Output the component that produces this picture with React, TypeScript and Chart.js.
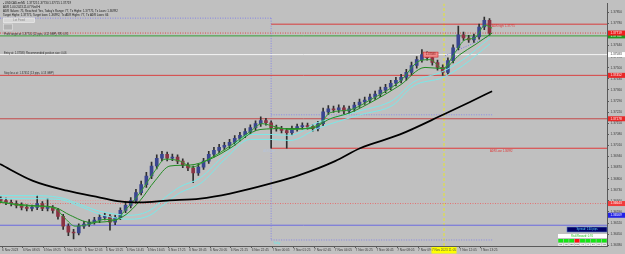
import React, { useEffect, useRef } from "react";
import { Chart, registerables } from "chart.js";

Chart.register(...registerables);

// ---- time axis (minutes after 6 Nov 2023 00:00) ----
const candleStartTime = 400;
const candleStep = 20;
const xMinTime = 397;
const xMaxTime = 2732;

const xTickTimes = [405, 485, 565, 645, 725, 805, 885, 965, 1045, 1125, 1205, 1285, 1365, 1445, 1525, 1605, 1685, 1765, 1845, 1925, 2005, 2085, 2165, 2245];
const xTickLabels = [
  "6 Nov 2023", "6 Nov 08:05", "6 Nov 09:25", "6 Nov 10:45", "6 Nov 12:05", "6 Nov 13:25", "6 Nov 14:45", "6 Nov 16:05",
  "6 Nov 17:25", "6 Nov 18:45", "6 Nov 20:05", "6 Nov 21:25", "6 Nov 22:45", "7 Nov 00:05", "7 Nov 01:25", "7 Nov 02:45",
  "7 Nov 04:05", "7 Nov 05:25", "7 Nov 06:45", "7 Nov 08:05", "7 Nov 09:25", "7 Nov 10:45", "7 Nov 12:05", "7 Nov 13:25",
];

// ---- price axis ----
const yMinPrice = 1.36375;
const yMaxPrice = 1.37906;
const yTickValues = [1.3785, 1.3778, 1.3771, 1.3764, 1.3757, 1.375, 1.3743, 1.3736, 1.3729, 1.3722, 1.3715, 1.3708, 1.3701, 1.3694, 1.3687, 1.368, 1.3673, 1.3666, 1.3659, 1.3652, 1.3645, 1.3638];

// ---- candles (20-minute) ----
const openPrices = [
  1.3667, 1.36662, 1.3665, 1.36643, 1.36631, 1.36618, 1.36612, 1.36618, 1.36643, 1.36612,
  1.36618, 1.366, 1.36562, 1.365, 1.36463, 1.36457, 1.365, 1.36513, 1.36525, 1.36538,
  1.36556, 1.36562, 1.36525, 1.36556, 1.366, 1.36631, 1.36662, 1.36712, 1.36762, 1.36817,
  1.3688, 1.36929, 1.36954, 1.36929, 1.36936, 1.36911, 1.36886, 1.36867, 1.36836, 1.36873,
  1.36911, 1.36954, 1.36979, 1.36998, 1.3701, 1.37029, 1.37054, 1.37073, 1.37097, 1.37122,
  1.37147, 1.37166, 1.37153, 1.37122, 1.37116, 1.37104, 1.37091, 1.37116, 1.37128, 1.37135,
  1.37128, 1.37116, 1.37147, 1.37222, 1.3724, 1.37234, 1.37247, 1.37228, 1.3724, 1.37265,
  1.37284, 1.37296, 1.37315, 1.37334, 1.37359, 1.37377, 1.37402, 1.37421, 1.37439, 1.37471,
  1.37514, 1.37551, 1.37583, 1.37564, 1.37533, 1.37502, 1.37471, 1.37545, 1.37626, 1.37707,
  1.37688, 1.37676, 1.37695, 1.37757, 1.378,
];
const highPrices = [
  1.36685, 1.36678, 1.36665, 1.3666, 1.36648, 1.36635, 1.36634, 1.36693, 1.36655, 1.36674,
  1.3663, 1.36612, 1.36575, 1.36515, 1.3648, 1.36515, 1.3653, 1.36542, 1.36556, 1.36575,
  1.36582, 1.36574, 1.3657, 1.36616, 1.3665, 1.3668, 1.36732, 1.36785, 1.3684, 1.36905,
  1.3695, 1.36973, 1.36968, 1.36955, 1.3695, 1.36925, 1.369, 1.3688, 1.3689, 1.36928,
  1.36972, 1.36998, 1.37016, 1.3703, 1.37048, 1.37072, 1.37092, 1.37116, 1.3714, 1.37165,
  1.37191, 1.3718, 1.37165, 1.37138, 1.3713, 1.37118, 1.37132, 1.37145, 1.37152, 1.3715,
  1.37142, 1.37162, 1.37245, 1.37262, 1.37258, 1.37266, 1.37262, 1.37258, 1.37282, 1.37302,
  1.37315, 1.37334, 1.37352, 1.37378, 1.37396, 1.3742, 1.3744, 1.37458, 1.3749, 1.37535,
  1.3757, 1.37614, 1.376, 1.3758, 1.37548, 1.37518, 1.37562, 1.37645, 1.37763, 1.37725,
  1.37705, 1.37712, 1.37775, 1.37819, 1.3781,
];
const lowPrices = [
  1.36648, 1.36636, 1.36628, 1.36615, 1.36602, 1.36596, 1.36597, 1.36604, 1.36598, 1.36597,
  1.36582, 1.36545, 1.3648, 1.3644, 1.36419, 1.36445, 1.36486, 1.36498, 1.36512, 1.36522,
  1.3654, 1.36475, 1.3651, 1.36541, 1.36585, 1.36616, 1.36645, 1.36698, 1.36745, 1.368,
  1.36862, 1.36912, 1.36912, 1.36914, 1.36895, 1.3687, 1.3685, 1.36774, 1.3682, 1.36858,
  1.36896, 1.36938, 1.36962, 1.36982, 1.36994, 1.37012, 1.37038, 1.37058, 1.3708, 1.37105,
  1.3713, 1.37138, 1.36992, 1.371, 1.37088, 1.36992, 1.37076, 1.371, 1.37112, 1.37112,
  1.371, 1.37102, 1.37135, 1.37205, 1.37218, 1.37218, 1.3721, 1.37212, 1.37225, 1.3725,
  1.37268, 1.3728, 1.373, 1.37318, 1.37342, 1.3736, 1.37386, 1.37405, 1.37422, 1.37455,
  1.37498, 1.37535, 1.37548, 1.37516, 1.37485, 1.37452, 1.3746, 1.3753, 1.37612, 1.37672,
  1.3766, 1.3766, 1.3768, 1.3774, 1.37705,
];
const closePrices = [
  1.36662, 1.3665, 1.36643, 1.36631, 1.36618, 1.36612, 1.36618, 1.36643, 1.36612, 1.36618,
  1.366, 1.36562, 1.365, 1.36463, 1.36457, 1.365, 1.36513, 1.36525, 1.36538, 1.36556,
  1.36562, 1.36525, 1.36556, 1.366, 1.36631, 1.36662, 1.36712, 1.36762, 1.36817, 1.3688,
  1.36929, 1.36954, 1.36929, 1.36936, 1.36911, 1.36886, 1.36867, 1.36836, 1.36873, 1.36911,
  1.36954, 1.36979, 1.36998, 1.3701, 1.37029, 1.37054, 1.37073, 1.37097, 1.37122, 1.37147,
  1.37166, 1.37153, 1.37122, 1.37116, 1.37104, 1.37091, 1.37116, 1.37128, 1.37135, 1.37128,
  1.37116, 1.37147, 1.37222, 1.3724, 1.37234, 1.37247, 1.37228, 1.3724, 1.37265, 1.37284,
  1.37296, 1.37315, 1.37334, 1.37359, 1.37377, 1.37402, 1.37421, 1.37439, 1.37471, 1.37514,
  1.37551, 1.37583, 1.37564, 1.37533, 1.37502, 1.37471, 1.37545, 1.37626, 1.37707, 1.37688,
  1.37676, 1.37695, 1.37757, 1.378, 1.37719,
];

// ---- moving averages: [time, price] ----
const blackMa = [[397, 1.36892], [524, 1.36786], [655, 1.36724], [782, 1.36681], [859, 1.36656], [936, 1.3665], [1040, 1.36662], [1167, 1.36674], [1282, 1.36706], [1436, 1.36768], [1551, 1.36824], [1686, 1.36911], [1782, 1.36992], [1936, 1.37079], [2101, 1.37203], [2205, 1.37284], [2290, 1.37352]];
const greenFast = [[397, 1.36656], [474, 1.36631], [551, 1.36625], [609, 1.36612], [647, 1.3655], [686, 1.365], [743, 1.36513], [801, 1.36544], [840, 1.36538], [878, 1.366], [936, 1.36712], [993, 1.36849], [1032, 1.36923], [1090, 1.36911], [1136, 1.36873], [1186, 1.36911], [1263, 1.36985], [1359, 1.37097], [1405, 1.37147], [1455, 1.37128], [1513, 1.3711], [1590, 1.37122], [1628, 1.37147], [1667, 1.37216], [1743, 1.37234], [1820, 1.37296], [1936, 1.37415], [2013, 1.37545], [2051, 1.37551], [2101, 1.37495], [2147, 1.37595], [2186, 1.37676], [2224, 1.37688], [2263, 1.37769], [2290, 1.3775]];
const greenSlow = [[397, 1.3665], [513, 1.36631], [609, 1.36618], [667, 1.36569], [743, 1.36525], [820, 1.36531], [878, 1.36569], [936, 1.36662], [993, 1.36786], [1051, 1.3688], [1128, 1.36886], [1205, 1.36923], [1282, 1.36992], [1397, 1.3711], [1493, 1.37116], [1590, 1.37116], [1667, 1.37178], [1743, 1.37216], [1840, 1.37296], [1936, 1.3739], [2032, 1.37502], [2101, 1.37495], [2166, 1.37583], [2224, 1.37645], [2290, 1.37719]];
const cyanUpper = [[397, 1.36693], [513, 1.36693], [628, 1.36681], [705, 1.36637], [782, 1.36594], [897, 1.36569], [974, 1.366], [1032, 1.36681], [1090, 1.36749], [1167, 1.36805], [1263, 1.36954], [1359, 1.37079], [1436, 1.37079], [1513, 1.37073], [1617, 1.37153], [1782, 1.37228], [1909, 1.37296], [1986, 1.37408], [2101, 1.37477], [2178, 1.37551], [2282, 1.37688]];
const cyanLower = [[397, 1.36674], [513, 1.36674], [628, 1.36668], [705, 1.36625], [782, 1.36575], [897, 1.36544], [974, 1.36569], [1032, 1.36643], [1090, 1.36712], [1167, 1.36768], [1263, 1.36923], [1359, 1.37048], [1436, 1.37048], [1513, 1.37041], [1617, 1.37116], [1782, 1.37203], [1909, 1.37265], [1986, 1.37384], [2101, 1.37439], [2178, 1.37514], [2282, 1.37651]];
const trendLine = [[2109, 1.37576], [2282, 1.37701]];

// ---- drawn objects (prices / times) ----
const adrHigh = 1.37775;
const bidPrice = 1.37719;
const targetPrice = 1.37701;
const entryPrice = 1.37583;
const stopPrice = 1.37452;
const resistLevel = 1.37178;
const rangeTop = 1.37813;
const rangeMid = 1.37203;
const rangeBottom = 1.36413;
const adrLow = 1.36992;
const pivotLevel = 1.36662;
const supportLevel = 1.36643;
const blueLevel = 1.36506;
const blueLabelPrice = 1.36569;
const dayStart = 1440;
const rangeEnd = 2290;
const cursorTime = 2105;

const infoLines = [
  "▪ USDCAD.mrM5  1.37725 1.37730 1.37715 1.37719",
  "ADR 1.00 2023.11.07 Red Hi",
  "ADR Values: 75, Reached: Yes, Today's Range: 77, Tx Highs: 1.37775, Tx Lows: 1.36992",
  "Target Highs: 1.37775, Target lows: 1.36992, Tx ADR Highs: 77, Tx ADR Lows: 66",
];
const targetText = "Profit target at: 1.37701 (12 pips, 0.12 GBP), RR: 0.91";
const entryText = "Entry at: 1.37583; Recommended position size: 0.06";
const stopText = "Stop loss at: 1.37452 (13 pips, 0.13 GBP)";
const spreadText = "Spread: 1.60 pips";
const rrText = "Risk/Reward: 0.91";
const tfLabels = ["M1", "M5", "M15", "M30", "H1", "H4", "D1", "W1", "MN"];
const tfState = [1, 1, 1, 0, 1, 1, 1, 1, 1];

const FONT = '"Liberation Sans", "DejaVu Sans", Arial, sans-serif';

export default function App() {
  const ref = useRef<HTMLCanvasElement>(null);

  useEffect(() => {
    const canvas = ref.current!;
    const pts = (arr: number[][]) => arr.map(([t, p]) => ({ x: t, y: p }));
    const hLine = (p: number, t0: number, t1: number) => [{ x: t0, y: p }, { x: t1, y: p }];
    const vLine = (t: number, p0: number, p1: number) => [{ x: t, y: p0 }, { x: t, y: p1 }];
    const candleT = (i: number) => candleStartTime + i * candleStep;
    const bull = (i: number) => closePrices[i] >= openPrices[i];

    const line = (data: any[], color: string, width: number, dash: number[], order: number, smooth = false) => ({
      type: "line" as const,
      data,
      borderColor: color,
      borderWidth: width,
      borderDash: dash,
      pointRadius: 0,
      fill: false,
      order,
      tension: smooth ? 0.4 : 0,
      cubicInterpolationMode: smooth ? ("monotone" as const) : ("default" as const),
    });

    const background = {
      id: "bg",
      beforeDraw(chart: any) {
        const c = chart.ctx;
        c.save();
        c.fillStyle = "#c0c0c0";
        c.fillRect(0, 0, chart.width, chart.height);
        c.restore();
      },
    };

    const overlay = {
      id: "overlay",
      afterDraw(chart: any) {
        const c: CanvasRenderingContext2D = chart.ctx;
        const xs = chart.scales.x;
        const ys = chart.scales.y;
        const ca = chart.chartArea;
        c.save();
        c.textBaseline = "middle";
        c.textAlign = "left";

        // info lines
        c.font = `2.9px ${FONT}`;
        c.fillStyle = "#1a1a1a";
        infoLines.forEach((t, i) => c.fillText(t, 3, 3.5 + i * 3.8));

        // lot button
        c.fillStyle = "#d6d6d6";
        c.fillRect(3.5, 18, 31, 4.5);
        c.strokeStyle = "#f2f2f2";
        c.lineWidth = 0.6;
        c.strokeRect(3.5, 18, 31, 4.5);
        c.fillStyle = "#8a8a8a";
        c.textAlign = "center";
        c.fillText("Lot Fixed", 19, 20.4);
        c.textAlign = "left";
        c.fillStyle = "#b2b2b2";
        c.fillRect(3.5, 24, 9, 6);
        c.strokeStyle = "#e6e6e6";
        c.strokeRect(3.5, 24, 9, 6);

        // line labels
        c.font = `2.7px ${FONT}`;
        c.fillStyle = "#2a2a2a";
        c.fillText(targetText, 4, ys.getPixelForValue(targetPrice) - 1.8);
        c.fillText(entryText, 4, ys.getPixelForValue(entryPrice) - 1.8);
        c.fillText(stopText, 4, ys.getPixelForValue(stopPrice) - 1.8);

        c.fillStyle = "#e03030";
        c.fillText("ADR high: " + adrHigh.toFixed(5), xs.getPixelForValue(2290), ys.getPixelForValue(adrHigh) + 2.5);
        c.fillText("ADR Low: " + adrLow.toFixed(5), xs.getPixelForValue(2282), ys.getPixelForValue(adrLow) + 3);
        c.fillStyle = "#b4c4de";
        c.fillText("ADR Low", xs.getPixelForValue(dayStart) - 8, ys.getPixelForValue(adrLow) + 3.5);
        c.fillStyle = "#6fe6e6";
        c.fillText("Today", xs.getPixelForValue(dayStart) + 2, ca.bottom - 3);

        // entry marker box
        const ex0 = xs.getPixelForValue(2025);
        const ex1 = xs.getPixelForValue(2082);
        const ey = ys.getPixelForValue(entryPrice);
        c.fillStyle = "#ef8a8a";
        c.fillRect(ex0, ey - 2.5, ex1 - ex0, 5);
        c.strokeStyle = "#d02828";
        c.lineWidth = 0.6;
        c.strokeRect(ex0, ey - 2.5, ex1 - ex0, 5);
        c.fillStyle = "#7a1010";
        c.textAlign = "center";
        c.fillText(entryPrice.toFixed(5), (ex0 + ex1) / 2, ey);

        // right axis price boxes
        c.font = `3.1px ${FONT}`;
        const boxes: [number, string, string][] = [
          [blueLabelPrice, "#2323e6", "#ffffff"],
          [supportLevel, "#f03c3c", "#ffffff"],
          [resistLevel, "#e82828", "#ffffff"],
          [stopPrice, "#e82828", "#ffffff"],
          [entryPrice, "#ffffff", "#333333"],
          [targetPrice, "#1f9a1f", "#ffffff"],
          [bidPrice, "#ee1c1c", "#ffffff"],
        ];
        c.textAlign = "left";
        boxes.forEach(([p, fill, txt]) => {
          const yy = ys.getPixelForValue(p);
          c.fillStyle = fill;
          c.fillRect(ca.right + 1, yy - 2.5, 17, 5);
          c.fillStyle = txt;
          c.fillText(p.toFixed(5), ca.right + 3.5, yy);
        });

        // bottom-right panel
        c.textAlign = "center";
        c.font = `2.7px ${FONT}`;
        c.fillStyle = "#000066";
        c.fillRect(567, 227, 40, 5);
        c.strokeStyle = "#5a78c8";
        c.strokeRect(567, 227, 40, 5);
        c.fillStyle = "#5ad8ff";
        c.fillText(spreadText, 587, 229.6);
        c.fillStyle = "#ffffff";
        c.fillRect(558, 234, 49, 4);
        c.fillStyle = "#22c022";
        c.fillText(rrText, 582, 236.1);
        const cw = 49 / tfLabels.length;
        tfLabels.forEach((lab, i) => {
          c.fillStyle = tfState[i] ? "#14e614" : "#ff1010";
          c.fillRect(558 + i * cw + 0.3, 239, cw - 0.6, 3.5);
          c.fillStyle = "#f4f4f4";
          c.fillRect(558 + i * cw + 0.3, 243.3, cw - 0.6, 2.5);
          c.fillStyle = "#333333";
          c.font = `2px ${FONT}`;
          c.fillText(lab, 558 + i * cw + cw / 2, 244.6);
        });

        // cursor time label on x axis
        const cx = xs.getPixelForValue(cursorTime);
        c.fillStyle = "#ffff00";
        c.fillRect(cx - 12.5, ca.bottom + 1, 25, 6.5);
        c.fillStyle = "#505050";
        c.font = `3.1px ${FONT}`;
        c.fillText("7 Nov 2023 11:05", cx, ca.bottom + 4.3);
        c.restore();
      },
    };

    const chart = new Chart(canvas, {
      type: "bar",
      data: {
        datasets: [
          line(pts(blackMa), "#000000", 1.8, [], 1, true),
          line(pts(greenFast), "#2f9a2f", 1, [], 2, true),
          line(pts(greenSlow), "#218a21", 1, [], 2, true),
          line(pts(cyanUpper), "#7ae8e8", 1, [], 3, true),
          line(pts(cyanLower), "#7ae8e8", 1, [], 3, true),
          {
            type: "bar" as const,
            data: openPrices.map((o, i) => ({ x: candleT(i), y: [Math.min(o, closePrices[i]), Math.max(o, closePrices[i])] })),
            backgroundColor: (ctx: any) => (bull(ctx.dataIndex) ? "#3a4690" : "#8a3444"),
            barThickness: 3,
            grouped: false,
            minBarLength: 1,
            order: 4,
          },
          {
            type: "bar" as const,
            data: highPrices.map((h, i) => ({ x: candleT(i), y: [lowPrices[i], h] })),
            backgroundColor: "#2e2e2e",
            barThickness: 1,
            grouped: false,
            order: 5,
          },
          line(pts(trendLine), "#7c7ce8", 1, [1, 1.5], 6),
          line(hLine(adrHigh, dayStart, xMaxTime), "#d83c3c", 1, [], 7),
          line(hLine(bidPrice, xMinTime, xMaxTime), "#e04a4a", 1, [1, 1.5], 7),
          line(hLine(targetPrice, xMinTime, xMaxTime), "#38a038", 1, [], 7),
          line(hLine(entryPrice, xMinTime, xMaxTime), "#f4f4f4", 1, [], 7),
          line(hLine(stopPrice, xMinTime, xMaxTime), "#d84040", 1, [], 7),
          line(hLine(resistLevel, xMinTime, xMaxTime), "#c44a4a", 1, [], 7),
          line(hLine(adrLow, dayStart, xMaxTime), "#e03a3a", 1, [], 7),
          line(hLine(rangeTop, xMinTime, dayStart), "#8484e6", 1, [1, 1.5], 7),
          line(vLine(dayStart, rangeTop, rangeBottom), "#8484e6", 1, [1, 1.5], 7),
          line(hLine(rangeBottom, dayStart, rangeEnd), "#8484e6", 1, [1, 1.5], 7),
          line(hLine(rangeMid, dayStart, rangeEnd), "#8a8ae6", 1, [1, 1.5], 7),
          line(hLine(pivotLevel, xMinTime, dayStart), "#d8a4a4", 1, [1, 1.5], 7),
          line(hLine(supportLevel, xMinTime, xMaxTime), "#e27272", 1, [1, 1.5], 7),
          line(hLine(blueLevel, xMinTime, xMaxTime), "#6a6ae0", 1, [], 7),
          line(vLine(cursorTime, yMinPrice, yMaxPrice), "#e6e62a", 1, [3, 2], 7),
        ] as any,
      },
      options: {
        responsive: false,
        animation: false,
        devicePixelRatio: 1,
        layout: { padding: 0 },
        plugins: { legend: { display: false }, tooltip: { enabled: false } },
        scales: {
          x: {
            type: "linear",
            min: xMinTime,
            max: xMaxTime,
            offset: false,
            afterBuildTicks: (s: any) => {
              s.ticks = xTickTimes.map((v) => ({ value: v }));
            },
            afterFit: (s: any) => {
              s.height = 8;
            },
            ticks: {
              autoSkip: false,
              maxRotation: 0,
              align: "start",
              padding: 0.5,
              color: "#3c3c3c",
              font: { size: 3.2, family: FONT },
              callback: (_v: any, i: number) => xTickLabels[i],
            },
            grid: { drawOnChartArea: false, tickLength: 2, color: "#5a5a5a", offset: false },
            border: { color: "#5a5a5a" },
          },
          y: {
            type: "linear",
            position: "right",
            min: yMinPrice,
            max: yMaxPrice,
            afterBuildTicks: (s: any) => {
              s.ticks = yTickValues.map((v) => ({ value: v }));
            },
            afterFit: (s: any) => {
              s.width = 18;
            },
            ticks: {
              padding: 1.5,
              color: "#3c3c3c",
              font: { size: 3.2, family: FONT },
              callback: (v: any) => Number(v).toFixed(5),
            },
            grid: { drawOnChartArea: false, tickLength: 2, color: "#5a5a5a" },
            border: { color: "#5a5a5a" },
          },
        },
      } as any,
      plugins: [background, overlay],
    });

    return () => chart.destroy();
  }, []);

  return (
    <div style={{ position: "fixed", left: 0, top: 0, width: 625, height: 254, background: "#c0c0c0" }}>
      <canvas ref={ref} width={625} height={254} style={{ display: "block" }} />
    </div>
  );
}
